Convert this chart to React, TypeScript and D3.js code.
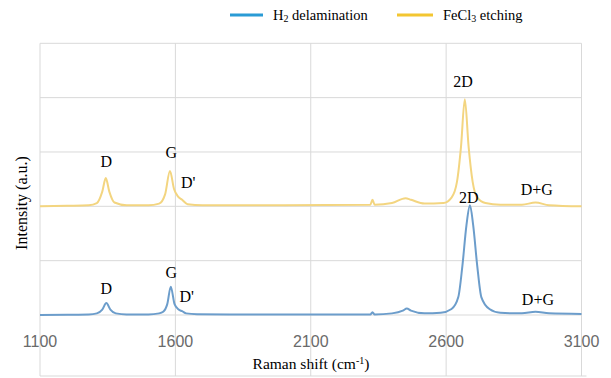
import * as d3 from "d3"

// Raman shift (cm-1) sample points
const blueShift = [1100, 1200, 1280, 1310, 1330, 1345, 1360, 1380, 1420, 1500, 1540, 1555, 1570, 1583, 1597, 1612, 1625, 1640, 1680, 1800, 2000, 2200, 2320, 2328, 2336, 2400, 2440, 2455, 2470, 2520, 2580, 2620, 2645, 2660, 2675, 2688, 2700, 2715, 2730, 2760, 2800, 2880, 2930, 2980, 3100]
const blueIntensity = [0.0, 0.005, 0.01, 0.03, 0.1, 0.22, 0.1, 0.03, 0.01, 0.01, 0.03, 0.06, 0.2, 0.52, 0.2, 0.1, 0.07, 0.03, 0.015, 0.01, 0.01, 0.01, 0.01, 0.05, 0.01, 0.03, 0.08, 0.12, 0.08, 0.03, 0.04, 0.11, 0.33, 0.9, 1.65, 2.02, 1.65, 0.9, 0.33, 0.11, 0.04, 0.03, 0.06, 0.03, 0.02]

const yellowShift = [1100, 1200, 1280, 1310, 1330, 1343, 1356, 1375, 1420, 1500, 1540, 1562, 1580, 1595, 1610, 1625, 1645, 1700, 2000, 2320, 2328, 2336, 2400, 2450, 2470, 2520, 2590, 2620, 2640, 2655, 2669, 2683, 2698, 2715, 2745, 2800, 2880, 2930, 2980, 3100]
const yellowIntensity = [2.0, 2.01, 2.02, 2.06, 2.27, 2.52, 2.27, 2.07, 2.02, 2.02, 2.05, 2.22, 2.65, 2.32, 2.18, 2.12, 2.04, 2.02, 2.02, 2.03, 2.12, 2.03, 2.06, 2.15, 2.12, 2.05, 2.06, 2.16, 2.45, 3.1, 3.97, 3.1, 2.45, 2.16, 2.06, 2.03, 2.03, 2.07, 2.02, 2.0]

const xTicks = [1100, 1600, 2100, 2600, 3100]
const yGrid = [0, 1, 2, 3, 4, 5]

// peak labels: text, shift, intensity (text baseline)
const peakLabels = [
  { text: "D", shift: 1345, value: 2.73 },
  { text: "G", shift: 1585, value: 2.89 },
  { text: "D'", shift: 1647, value: 2.34 },
  { text: "2D", shift: 2662, value: 4.2 },
  { text: "D+G", shift: 2935, value: 2.21 },
  { text: "D", shift: 1345, value: 0.39 },
  { text: "G", shift: 1585, value: 0.68 },
  { text: "D'", shift: 1642, value: 0.24 },
  { text: "2D", shift: 2684, value: 2.06 },
  { text: "D+G", shift: 2939, value: 0.18 },
]

const serif = "'Liberation Serif', 'Times New Roman', 'DejaVu Serif', serif"
const sans = "'Liberation Sans', Arial, sans-serif"

export default function App() {
  const left = 40
  const right = 581.5
  const top = 43.3
  const bottom = 315

  const x = d3.scaleLinear().domain([1100, 3100]).range([left, right])
  const y = d3.scaleLinear().domain([0, 5]).range([bottom, top])

  const line = d3
    .line<[number, number]>()
    .x((d) => x(d[0]))
    .y((d) => y(d[1]))
    .curve(d3.curveMonotoneX)

  const blueData = blueShift.map((s, i) => [s, blueIntensity[i]] as [number, number])
  const yellowData = yellowShift.map((s, i) => [s, yellowIntensity[i]] as [number, number])

  const serifStyle = { fontFamily: serif }

  return (
    <svg width={611} height={378} style={{ position: "absolute", left: 0, top: 0, background: "#fff" }}>
      {/* grid */}
      {yGrid.map((v) => (
        <line key={"h" + v} x1={left} x2={right} y1={y(v)} y2={y(v)} stroke="#d9d9d9" strokeWidth={1} />
      ))}
      {xTicks.map((t) => (
        <line key={"v" + t} x1={x(t)} x2={x(t)} y1={top} y2={376} stroke="#d9d9d9" strokeWidth={1} />
      ))}
      <line x1={left} x2={right + 5} y1={376} y2={376} stroke="#d9d9d9" strokeWidth={1} />

      {/* spectra */}
      <path d={line(yellowData) as string} fill="none" stroke="#f3d580" strokeWidth={2} />
      <path d={line(blueData) as string} fill="none" stroke="#6c9dcb" strokeWidth={2} />

      {/* tick labels */}
      {xTicks.map((t) => (
        <text key={"t" + t} x={x(t)} y={347} textAnchor="middle" style={{ fontFamily: sans }} fontSize={16} fill="#6a6a6a">
          {t}
        </text>
      ))}

      {/* peak labels */}
      {peakLabels.map((p, i) => (
        <text key={"p" + i} x={x(p.shift)} y={y(p.value)} textAnchor="middle" style={serifStyle} fontSize={16} fill="#000">
          {p.text}
        </text>
      ))}

      {/* axis titles */}
      <text x={311} y={369} textAnchor="middle" style={serifStyle} fontSize={15.5} fill="#000">
        Raman shift (cm<tspan dy={-5} fontSize={10}>-1</tspan><tspan dy={5}>)</tspan>
      </text>
      <text transform="translate(27,203) rotate(-90)" textAnchor="middle" style={serifStyle} fontSize={16} fill="#000">
        Intensity (a.u.)
      </text>

      {/* legend */}
      <line x1={230} x2={263} y1={15} y2={15} stroke="#2a9bd5" strokeWidth={3} />
      <text x={273} y={20} style={serifStyle} fontSize={14.5} fill="#000">
        H<tspan dy={2} fontSize={10}>2</tspan><tspan dy={-2}> delamination</tspan>
      </text>
      <line x1={397} x2={433} y1={15} y2={15} stroke="#f3c631" strokeWidth={3} />
      <text x={443} y={20} style={serifStyle} fontSize={14.5} fill="#000">
        FeCl<tspan dy={2} fontSize={10}>3</tspan><tspan dy={-2}> etching</tspan>
      </text>
    </svg>
  )
}
